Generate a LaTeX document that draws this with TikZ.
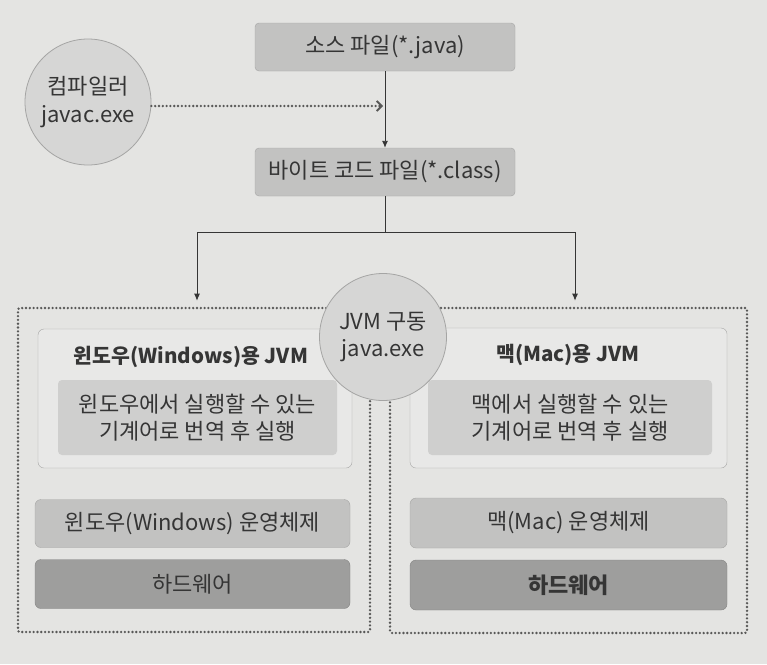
\documentclass[tikz,border=0pt]{standalone}
\usepackage{fontspec}
\setmainfont{Noto Sans CJK KR}
\usetikzlibrary{arrows.meta}
\definecolor{paper}{HTML}{E4E4E2}
\definecolor{ink}{HTML}{353535}
\definecolor{filegray}{HTML}{C2C2C1}
\definecolor{circgray}{HTML}{D6D6D5}
\definecolor{vmfill}{HTML}{E8E8E7}
\definecolor{innergray}{HTML}{CFCFCE}
\definecolor{osgray}{HTML}{C2C2C1}
\definecolor{hwgray}{HTML}{9E9E9D}
\definecolor{edge}{HTML}{A5A5A4}
\definecolor{dotgray}{HTML}{585857}

\begin{document}
\begin{tikzpicture}[x=1pt,y=-1pt,font=\fontsize{22}{27.5}\selectfont,text=ink,
    file/.style = {draw=edge, fill=filegray, rounded corners=4pt, minimum width=260pt, minimum height=48pt},
    tool/.style = {draw=edge, fill=circgray, circle, line width=0.8pt, minimum size=126pt, inner sep=0pt, align=center},
    group/.style = {draw=dotgray, line width=2.6pt, dash pattern=on 0pt off 3.8pt, line cap=round, rounded corners=2pt},
    title/.style = {font=\fontsize{20.5}{27.5}\selectfont\bfseries},
    vm/.style = {draw=edge, fill=vmfill, rounded corners=6pt},
    box/.style = {fill=innergray, rounded corners=4pt, align=center, minimum height=75pt},
    os/.style = {draw=edge, fill=osgray, rounded corners=6pt, minimum height=48pt},
    hw/.style = {draw=edge!80!black, fill=hwgray, rounded corners=6pt, minimum height=49pt},
    arrow/.style = {draw=ink, line width=0.9pt, -{Latex[length=7pt,width=6pt]}},
    dots/.style = {draw=dotgray, line width=2.6pt, dash pattern=on 0pt off 3.8pt, line cap=round}]
    \fill[paper] (0,0) rectangle (767,664);
    \useasboundingbox (0,0) rectangle (767,664);
    \node[file] (src) at (385,47) {소스 파일(*.java)};
    \node[file] (bc) at (385,172) {바이트 코드 파일(*.class)};
    \node[tool] (cmp) at (88,102) {컴파일러\\javac.exe};
    \node[group, minimum width=352pt, minimum height=324pt] (win) at (194,470) {};
    \node[group, minimum width=357pt, minimum height=325pt] (mac) at (568.5,470.5) {};
    \node[vm, minimum width=314pt, minimum height=139pt] (winvm) at (195,398.5) {};
    \node[title] (wintitle) at (191,357) {윈도우(Windows)용 JVM};
    \node[box, minimum width=279pt] (winrun) at (197.5,417.5) {윈도우에서 실행할 수 있는\\기계어로 번역 후 실행};
    \node[os, minimum width=315pt] (winos) at (192.5,523.5) {윈도우(Windows) 운영체제};
    \node[hw, minimum width=315pt] (winhw) at (192.5,584) {하드웨어};
    \node[vm, minimum width=317pt, minimum height=140pt] (macvm) at (568.5,398) {};
    \node[title] (mactitle) at (568,355) {맥(Mac)용 JVM};
    \node[box, minimum width=284pt] (macrun) at (570,417.5) {맥에서 실행할 수 있는\\기계어로 번역 후 실행};
    \node[os, minimum width=317pt, minimum height=50pt] (macos) at (568.5,523) {맥(Mac) 운영체제};
    \node[hw, minimum width=317pt, minimum height=50pt, font=\fontsize{22}{27.5}\selectfont\bfseries] (machw) at (568.5,585) {하드웨어};
    \node[tool, minimum size=127pt] (jvm) at (383,337) {JVM 구동\\java.exe};
    \coordinate (split) at (385,232);
    \draw[arrow] (src) -- (bc);
    \draw[dots, -{Straight Barb[length=5pt,width=10pt,line width=1.8pt]}, shorten >=2pt] ([yshift=-4pt]cmp.east) -- ([yshift=-4pt]cmp.east -| src.south);
    \draw[draw=ink, line width=0.9pt] (bc) -- (split);
    \draw[arrow, shorten >=6pt] (split) -| ([xshift=3pt]win.north);
    \draw[arrow, shorten >=6pt] (split) -| ([xshift=6.5pt]mac.north);
\end{tikzpicture}
\end{document}
